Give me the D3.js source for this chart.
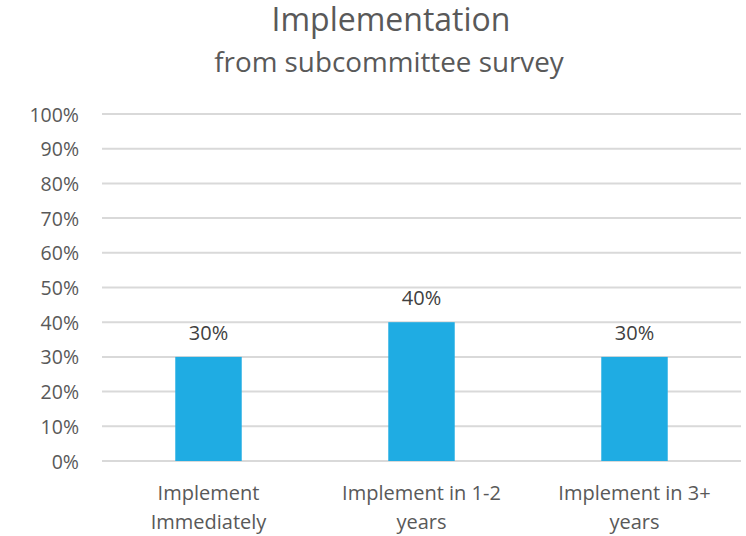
<!DOCTYPE html>
<html>
<head>
<meta charset="utf-8">
<script src="https://cdn.jsdelivr.net/npm/d3@7"></script>
<style>
  html, body { margin: 0; padding: 0; background: #fff; }
  svg { display: block; font-family: "Open Sans", sans-serif; }
</style>
</head>
<body>
<svg id="chart" width="746" height="536"></svg>
<script>
const titleText = "Implementation";
const subtitleText = "from subcommittee survey";
const categories = [["Implement", "Immediately"], ["Implement in 1-2", "years"], ["Implement in 3+", "years"]];
const values = [0.30, 0.40, 0.30];
const yTicks = [0, 0.1, 0.2, 0.3, 0.4, 0.5, 0.6, 0.7, 0.8, 0.9, 1.0];

const svg = d3.select("#chart");
const W = 746;
const plotLeft = 102, plotRight = 741, plotTop = 114, plotBottom = 461;

const x = d3.scaleBand()
  .domain(categories.map((d, i) => i))
  .range([plotLeft, plotRight])
  .paddingInner(0.688)
  .paddingOuter(0.344);

const y = d3.scaleLinear().domain([0, 1]).range([plotBottom, plotTop]);

// Title
svg.append("text")
  .attr("x", W / 2 + 18).attr("y", 31)
  .attr("text-anchor", "middle")
  .attr("fill", "#595959")
  .style("font-size", "32px")
  .text(titleText);
svg.append("text")
  .attr("x", W / 2 + 16).attr("y", 72)
  .attr("text-anchor", "middle")
  .attr("fill", "#595959")
  .style("font-size", "27.8px")
  .text(subtitleText);

// Gridlines
svg.append("g")
  .selectAll("line")
  .data(yTicks)
  .join("line")
  .attr("x1", plotLeft).attr("x2", plotRight)
  .attr("y1", d => y(d)).attr("y2", d => y(d))
  .attr("stroke", "#d9d9d9")
  .attr("stroke-width", 2);

// Y axis labels
const yAxis = d3.axisLeft(y).tickValues(yTicks).tickFormat(d3.format(".0%")).tickSize(0).tickPadding(0);
const gy = svg.append("g").attr("transform", `translate(79,0)`).call(yAxis);
gy.select(".domain").remove();
gy.selectAll("text")
  .attr("fill", "#595959")
  .attr("dy", "0.36em")
  .style("font-size", "19.5px")
  .style("font-family", "'Open Sans', sans-serif");

// Bars
svg.append("g")
  .selectAll("rect")
  .data(values)
  .join("rect")
  .attr("x", (d, i) => x(i))
  .attr("width", x.bandwidth())
  .attr("y", d => y(d))
  .attr("height", d => y(0) - y(d))
  .attr("fill", "#1FACE3");

// Data labels
svg.append("g")
  .selectAll("text")
  .data(values)
  .join("text")
  .attr("x", (d, i) => x(i) + x.bandwidth() / 2)
  .attr("y", d => y(d) - 17)
  .attr("text-anchor", "middle")
  .attr("fill", "#404040")
  .style("font-size", "20px")
  .text(d => d3.format(".0%")(d));

// Category labels
const cat = svg.append("g")
  .selectAll("text")
  .data(categories)
  .join("text")
  .attr("text-anchor", "middle")
  .attr("fill", "#595959")
  .style("font-size", "20px");
cat.each(function(d, i) {
  const t = d3.select(this);
  d.forEach((line, j) => {
    t.append("tspan")
      .attr("x", x(i) + x.bandwidth() / 2)
      .attr("y", 500 + j * 29)
      .text(line);
  });
});
</script>
</body>
</html>
